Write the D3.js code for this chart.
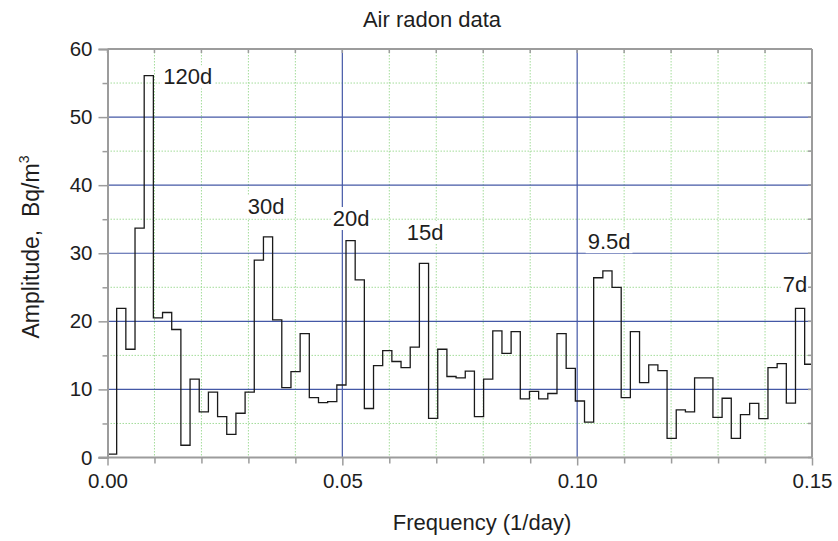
<!DOCTYPE html>
<html>
<head>
<meta charset="utf-8">
<script src="https://cdn.jsdelivr.net/npm/d3@7"></script>
<style>
  html, body { margin: 0; padding: 0; background: #fff; }
  svg { display: block; font-family: "Liberation Sans", Arial, sans-serif; }
</style>
</head>
<body>
<svg id="chart" width="838" height="541"></svg>
<script>
// ---- data ----
const chartTitle = "Air radon data";
const xAxisTitle = "Frequency (1/day)";
const binWidth = 1 / 512; // frequency resolution (1/day)
const amplitudes = [
  0.5, 21.9, 15.9, 33.7, 56.1, 20.5, 21.3, 18.8, 1.8, 11.5,
  6.7, 9.6, 6.0, 3.4, 6.5, 9.6, 29.0, 32.4, 20.2, 10.25,
  12.6, 18.2, 8.8, 8.05, 8.2, 10.65, 31.85, 26.1, 7.2, 13.5,
  15.7, 14.1, 13.2, 16.2, 28.5, 5.75, 15.9, 11.9, 11.7, 12.7,
  6.0, 11.5, 18.6, 15.3, 18.5, 8.6, 9.7, 8.6, 9.4, 18.2,
  13.1, 8.3, 5.2, 26.4, 27.4, 25.0, 8.8, 18.5, 11.0, 13.6,
  12.75, 2.8, 7.0, 6.7, 11.7, 11.7, 5.9, 8.7, 2.8, 6.3,
  7.95, 5.7, 13.2, 13.8, 8.0, 21.9, 13.7
];
const xTickValues = [0, 0.05, 0.10, 0.15];
const xMinorTicks = [0.01, 0.02, 0.03, 0.04, 0.06, 0.07, 0.08, 0.09, 0.11, 0.12, 0.13, 0.14];
const yTickValues = [0, 10, 20, 30, 40, 50, 60];
const yMinorTicks = [5, 15, 25, 35, 45, 55];
const peakLabels = ["120d", "30d", "20d", "15d", "9.5d", "7d"];
const peakFreqs = [0.01188, 0.02985, 0.04795, 0.0637, 0.10224, 0.14376];
const peakAmps = [54.8, 35.7, 34.0, 31.95, 30.6, 24.35];

// ---- layout ----
const svg = d3.select("#chart");
const L = 107.5, R = 812, T = 49, B = 457.5;
const x = d3.scaleLinear().domain([0, 0.15]).range([L, R]);
const y = d3.scaleLinear().domain([0, 60]).range([B, T]);

const gridBlue = "#4458a6";
const gridGreen = "#a3dc9a";
const frameGray = "#9c9c9c";
const textColor = "#1e1e1e";

svg.append("defs").append("clipPath").attr("id", "plotclip")
  .append("rect").attr("x", L).attr("y", T).attr("width", R - L).attr("height", B - T);

// minor dotted grid
const g = svg.append("g");
g.selectAll(".vminor").data(xMinorTicks).join("line")
  .attr("x1", d => x(d)).attr("x2", d => x(d)).attr("y1", T).attr("y2", B)
  .attr("stroke", gridGreen).attr("stroke-width", 1).attr("stroke-dasharray", "1.5,1.5");
g.selectAll(".hminor").data(yMinorTicks).join("line")
  .attr("y1", d => y(d)).attr("y2", d => y(d)).attr("x1", L).attr("x2", R)
  .attr("stroke", gridGreen).attr("stroke-width", 1).attr("stroke-dasharray", "1.5,1.5");
// major blue grid
g.selectAll(".hmajor").data(yTickValues.filter(v => v > 0 && v < 60)).join("line")
  .attr("y1", d => y(d)).attr("y2", d => y(d)).attr("x1", L).attr("x2", R)
  .attr("stroke", gridBlue).attr("stroke-width", 1.2);
g.selectAll(".vmajor").data(xTickValues.filter(v => v > 0 && v < 0.15)).join("line")
  .attr("x1", d => x(d)).attr("x2", d => x(d)).attr("y1", T).attr("y2", B)
  .attr("stroke", gridBlue).attr("stroke-width", 1.2);

// peak labels with white background
const lab = svg.append("g").attr("font-size", 22).attr("fill", textColor);
peakLabels.forEach((t, i) => {
  const tx = lab.append("text").attr("x", x(peakFreqs[i])).attr("y", y(peakAmps[i])).text(t);
  const bb = tx.node().getBBox();
  lab.insert("rect", "text").attr("x", bb.x - 2).attr("y", bb.y + 1).attr("width", bb.width + 4)
    .attr("height", bb.height - 2).attr("fill", "#fff");
});

// step line
const pts = amplitudes.map((v, i) => [i * binWidth, v]);
pts.push([amplitudes.length * binWidth, amplitudes[amplitudes.length - 1]]);
svg.append("path").datum(pts)
  .attr("clip-path", "url(#plotclip)")
  .attr("fill", "none").attr("stroke", "#1a1a1a").attr("stroke-width", 1.3)
  .attr("d", d3.line().x(d => x(d[0])).y(d => y(d[1])).curve(d3.curveStepAfter));

// frame: top and right
svg.append("line").attr("x1", L).attr("x2", R).attr("y1", T).attr("y2", T)
  .attr("stroke", frameGray).attr("stroke-width", 2);
svg.append("line").attr("x1", R).attr("x2", R).attr("y1", T).attr("y2", B)
  .attr("stroke", frameGray).attr("stroke-width", 2);
// inward ticks on top and right
const allX = xTickValues.concat(xMinorTicks);
svg.selectAll(".ttick").data(allX).join("line")
  .attr("x1", d => x(d)).attr("x2", d => x(d)).attr("y1", T).attr("y2", T + 4)
  .attr("stroke", frameGray).attr("stroke-width", 1.5);
const allY = yTickValues.concat(yMinorTicks);
svg.selectAll(".rtick").data(allY).join("line")
  .attr("y1", d => y(d)).attr("y2", d => y(d)).attr("x1", R).attr("x2", R - 4)
  .attr("stroke", frameGray).attr("stroke-width", 1.5);

// axes
const xAxis = d3.axisBottom(x).tickValues(xTickValues).tickFormat(d3.format(".2f")).tickSize(8).tickPadding(8);
const xAx = svg.append("g").attr("transform", `translate(0,${B})`).call(xAxis);
const xMinorAx = svg.append("g").attr("transform", `translate(0,${B})`)
  .call(d3.axisBottom(x).tickValues(xMinorTicks).tickFormat("").tickSize(6));
const yAxis = d3.axisLeft(y).tickValues(yTickValues).tickSize(9).tickPadding(6);
const yAx = svg.append("g").attr("transform", `translate(${L},0)`).call(yAxis);
const yMinorAx = svg.append("g").attr("transform", `translate(${L},0)`)
  .call(d3.axisLeft(y).tickValues(yMinorTicks).tickFormat("").tickSize(5));
[xAx, xMinorAx, yAx, yMinorAx].forEach(a => {
  a.select(".domain").attr("stroke", frameGray).attr("stroke-width", 2);
  a.selectAll(".tick line").attr("stroke", frameGray).attr("stroke-width", 1.5);
  a.selectAll("text").attr("font-size", 20.5).attr("fill", textColor).attr("font-family", "Liberation Sans, Arial, sans-serif");
});
xAx.select(".domain").attr("d", `M${L - 9},0H${R}`);
[xMinorAx, yMinorAx].forEach(a => a.select(".domain").remove());

// titles
svg.append("text").attr("x", 432).attr("y", 26.5).attr("text-anchor", "middle")
  .attr("font-size", 22).attr("fill", textColor).text(chartTitle);
svg.append("text").attr("x", 482).attr("y", 530).attr("text-anchor", "middle")
  .attr("font-size", 22).attr("fill", textColor).text(xAxisTitle);
const yt = svg.append("text").attr("transform", "translate(38.5,247) rotate(-90)")
  .attr("text-anchor", "middle").attr("font-size", 23).attr("fill", textColor);
yt.append("tspan").text("Amplitude,\u00a0\u00a0Bq/m");
yt.append("tspan").attr("dy", -10).attr("font-size", 14).text("3");
</script>
</body>
</html>
